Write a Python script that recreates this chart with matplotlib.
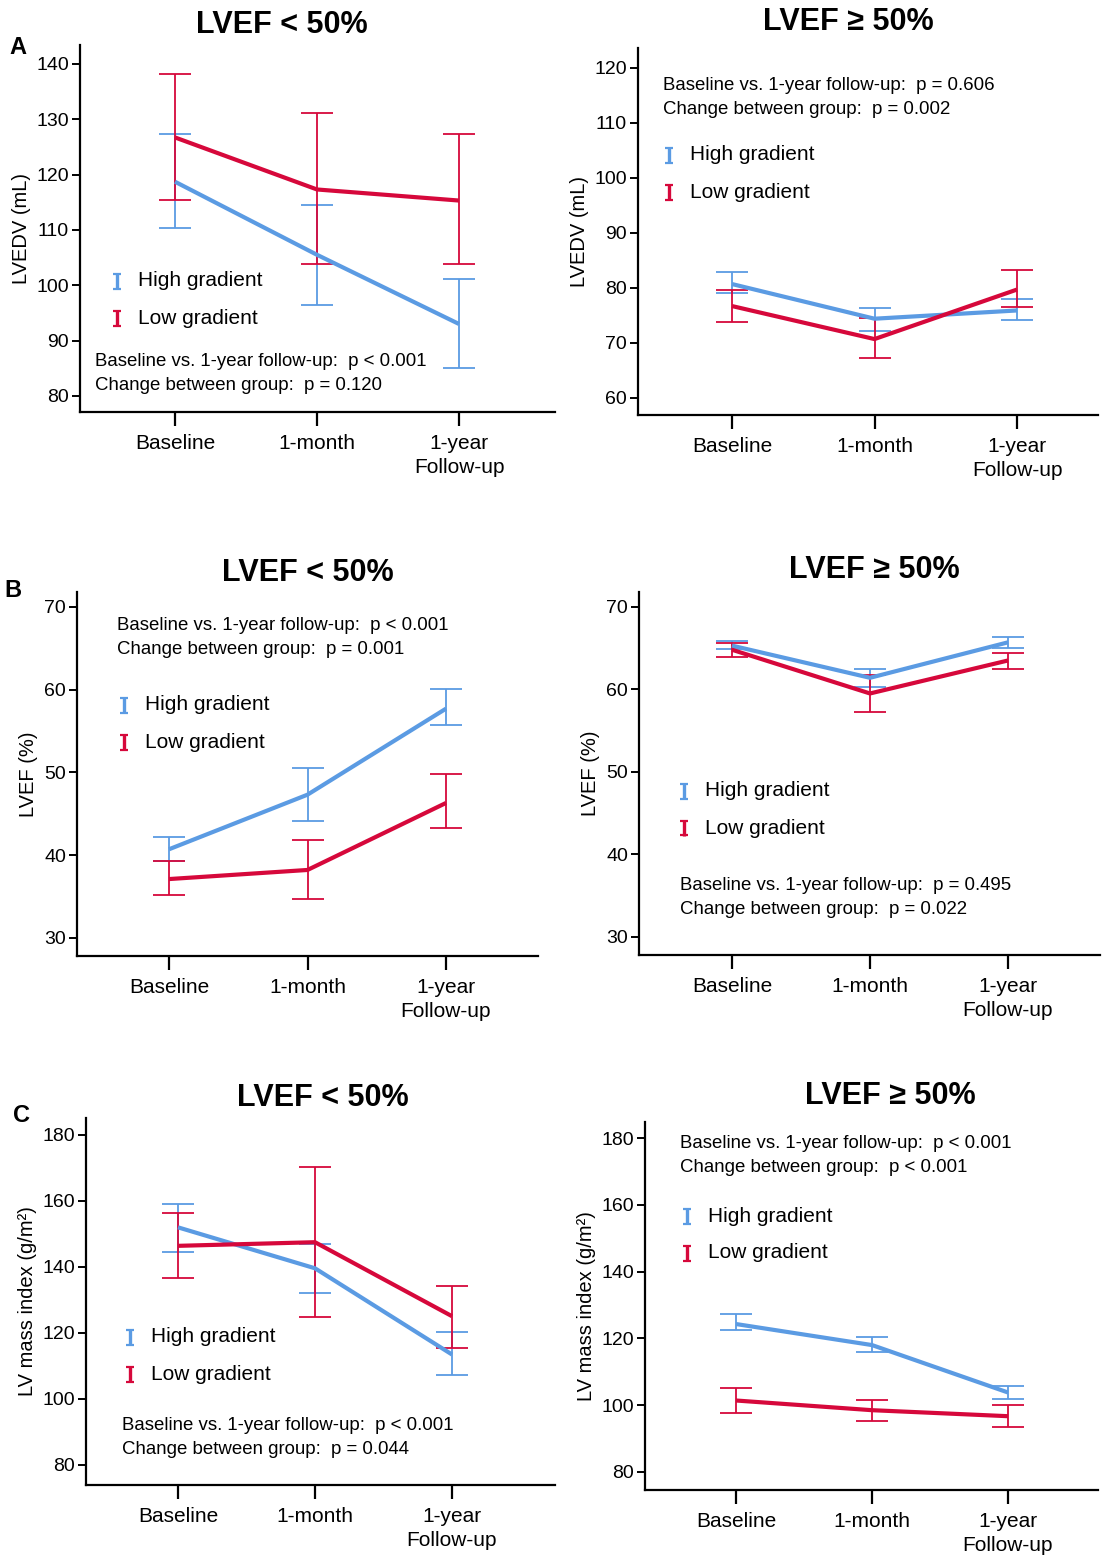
import matplotlib
matplotlib.use("Agg")
import matplotlib.pyplot as plt
from matplotlib.lines import Line2D

plt.rcParams['font.family'] = ['Liberation Sans', 'DejaVu Sans']

W, H = 1112, 1563
BLUE = '#5b9be3'
RED = '#d6083b'

timepoints = ['Baseline', '1-month', '1-year\nFollow-up']
title_lo = 'LVEF < 50%'
title_hi = 'LVEF \u2265 50%'

# LVEDV, LVEF < 50%
lvedv_lo_high = [118.7, 105.5, 93.0]
lvedv_lo_high_ci = [(110.4, 127.4), (96.5, 114.5), (85.0, 101.2)]
lvedv_lo_low = [126.7, 117.3, 115.3]
lvedv_lo_low_ci = [(115.4, 138.1), (103.8, 131.1), (103.8, 127.3)]
# LVEDV, LVEF >= 50%
lvedv_hi_high = [80.7, 74.4, 75.9]
lvedv_hi_high_ci = [(79.1, 82.9), (72.1, 76.4), (74.2, 77.9)]
lvedv_hi_low = [76.7, 70.7, 79.7]
lvedv_hi_low_ci = [(73.8, 79.6), (67.3, 74.5), (76.5, 83.2)]

# LVEF, LVEF < 50%
lvef_lo_high = [40.7, 47.3, 57.7]
lvef_lo_high_ci = [(39.3, 42.2), (44.1, 50.5), (55.7, 60.1)]
lvef_lo_low = [37.1, 38.2, 46.3]
lvef_lo_low_ci = [(35.2, 39.3), (34.7, 41.8), (43.3, 49.8)]
# LVEF, LVEF >= 50%
lvef_hi_high = [65.3, 61.4, 65.7]
lvef_hi_high_ci = [(64.9, 65.8), (60.3, 62.5), (65.0, 66.3)]
lvef_hi_low = [64.8, 59.5, 63.5]
lvef_hi_low_ci = [(63.9, 65.6), (57.2, 61.7), (62.5, 64.4)]

# LV mass index, LVEF < 50%
lvmi_lo_high = [151.9, 139.5, 113.4]
lvmi_lo_high_ci = [(144.4, 158.9), (131.9, 147.0), (107.1, 120.1)]
lvmi_lo_low = [146.3, 147.4, 125.0]
lvmi_lo_low_ci = [(136.5, 156.1), (124.9, 170.2), (115.4, 134.1)]
# LV mass index, LVEF >= 50%
lvmi_hi_high = [124.3, 118.0, 103.8]
lvmi_hi_high_ci = [(122.4, 127.3), (115.8, 120.5), (102.0, 105.8)]
lvmi_hi_low = [101.4, 98.5, 96.7]
lvmi_hi_low_ci = [(97.8, 105.0), (95.2, 101.5), (93.5, 100.0)]

stats = {
    'A0': ['Baseline vs. 1-year follow-up:  p < 0.001', 'Change between group:  p = 0.120'],
    'A1': ['Baseline vs. 1-year follow-up:  p = 0.606', 'Change between group:  p = 0.002'],
    'B0': ['Baseline vs. 1-year follow-up:  p < 0.001', 'Change between group:  p = 0.001'],
    'B1': ['Baseline vs. 1-year follow-up:  p = 0.495', 'Change between group:  p = 0.022'],
    'C0': ['Baseline vs. 1-year follow-up:  p < 0.001', 'Change between group:  p = 0.044'],
    'C1': ['Baseline vs. 1-year follow-up:  p < 0.001', 'Change between group:  p < 0.001'],
}

# panel layout in pixels: spine left/top/right/bottom, first and last tick x
panels = [
    dict(key='A0', box=(80, 45, 555, 412), ticks=(175, 459), ylim=(77.1, 143.4), yt=range(80, 141, 10),
         ylabel='LVEDV (mL)', title=title_lo, tpos=(282, 25),
         high=(lvedv_lo_high, lvedv_lo_high_ci), low=(lvedv_lo_low, lvedv_lo_low_ci),
         leg=(117, 281), st=(95, 362)),
    dict(key='A1', box=(638, 48, 1098, 415), ticks=(732, 1017), ylim=(56.9, 123.6), yt=range(60, 121, 10),
         ylabel='LVEDV (mL)', title=title_hi, tpos=(848, 22),
         high=(lvedv_hi_high, lvedv_hi_high_ci), low=(lvedv_hi_low, lvedv_hi_low_ci),
         leg=(669, 155), st=(663, 85)),
    dict(key='B0', box=(77, 592, 538, 956), ticks=(169, 446), ylim=(27.8, 71.8), yt=range(30, 71, 10),
         ylabel='LVEF (%)', title=title_lo, tpos=(308, 573),
         high=(lvef_lo_high, lvef_lo_high_ci), low=(lvef_lo_low, lvef_lo_low_ci),
         leg=(124, 705), st=(117, 625)),
    dict(key='B1', box=(639, 592, 1100, 955), ticks=(732, 1008), ylim=(27.8, 71.8), yt=range(30, 71, 10),
         ylabel='LVEF (%)', title=title_hi, tpos=(874, 570),
         high=(lvef_hi_high, lvef_hi_high_ci), low=(lvef_hi_low, lvef_hi_low_ci),
         leg=(684, 791), st=(680, 886)),
    dict(key='C0', box=(86, 1118, 555, 1485), ticks=(178, 452), ylim=(73.9, 185.0), yt=range(80, 181, 20),
         ylabel='LV mass index (g/m\u00b2)', title=title_lo, tpos=(323, 1098),
         high=(lvmi_lo_high, lvmi_lo_high_ci), low=(lvmi_lo_low, lvmi_lo_low_ci),
         leg=(130, 1337), st=(122, 1426)),
    dict(key='C1', box=(645, 1122, 1098, 1490), ticks=(736, 1008), ylim=(74.6, 184.8), yt=range(80, 181, 20),
         ylabel='LV mass index (g/m\u00b2)', title=title_hi, tpos=(890, 1096),
         high=(lvmi_hi_high, lvmi_hi_high_ci), low=(lvmi_hi_low, lvmi_hi_low_ci),
         leg=(687, 1216), st=(680, 1143)),
]

panel_letters = [('A', 18, 48), ('B', 13, 590), ('C', 22, 1115)]

fig = plt.figure(figsize=(W / 100, H / 100), dpi=100)


def fx(px):
    return px / W


def fy(py):
    return 1 - py / H


def legend_icon(x, y, color):
    # small I-beam symbol used as the legend key
    fig.add_artist(Line2D([fx(x), fx(x)], [fy(y - 8), fy(y + 8)], color=color,
                          lw=2.4, solid_capstyle='butt'))
    for yy in (y - 7.5, y + 7.5):
        fig.add_artist(Line2D([fx(x - 4), fx(x + 4)], [fy(yy), fy(yy)], color=color,
                              lw=1.6, solid_capstyle='butt'))


for p in panels:
    l, t, r, b = p['box']
    ax = fig.add_axes([fx(l), fy(b), fx(r - l), (b - t) / H])
    t0, t2 = p['ticks']
    dx = (t2 - t0) / 2
    ax.set_xlim((l - t0) / dx, 2 + (r - t2) / dx)
    ax.set_ylim(*p['ylim'])
    xs = [0, 1, 2]

    for (means, ci), color in ((p['high'], BLUE), (p['low'], RED)):
        lo = [m - c[0] for m, c in zip(means, ci)]
        hi = [c[1] - m for m, c in zip(means, ci)]
        ax.errorbar(xs, means, yerr=[lo, hi], fmt='none', ecolor=color,
                    elinewidth=1.3, capsize=11.5, capthick=1.3, zorder=2)
    for (means, ci), color in ((p['high'], BLUE), (p['low'], RED)):
        ax.plot(xs, means, color=color, lw=3.0, solid_capstyle='butt', zorder=3)

    ax.set_xticks(xs)
    ax.set_xticklabels(timepoints, fontsize=15, linespacing=1.3)
    ax.set_yticks(list(p['yt']))
    ax.tick_params(axis='y', labelsize=14, length=6, width=1.4, pad=2)
    ax.tick_params(axis='x', length=10, width=1.6, pad=6)
    for s in ('top', 'right'):
        ax.spines[s].set_visible(False)
    for s in ('left', 'bottom'):
        ax.spines[s].set_linewidth(1.6)
    ax.set_ylabel(p['ylabel'], fontsize=14.5, labelpad=4)

    fig.text(fx(p['tpos'][0]), fy(p['tpos'][1]), p['title'], fontsize=22,
             fontweight='bold', ha='center', va='center')

    lx, ly = p['leg']
    legend_icon(lx, ly, BLUE)
    legend_icon(lx, ly + 37, RED)
    fig.text(fx(lx + 21), fy(ly), 'High gradient', fontsize=15, ha='left', va='center')
    fig.text(fx(lx + 21), fy(ly + 37), 'Low gradient', fontsize=15, ha='left', va='center')

    sx, sy = p['st']
    for i, line in enumerate(stats[p['key']]):
        fig.text(fx(sx), fy(sy + 24 * i), line, fontsize=13.4, ha='left', va='center')

for letter, x, y in panel_letters:
    fig.text(fx(x), fy(y), letter, fontsize=17, fontweight='bold', ha='center', va='center')

fig.savefig('out.png', dpi=100)
